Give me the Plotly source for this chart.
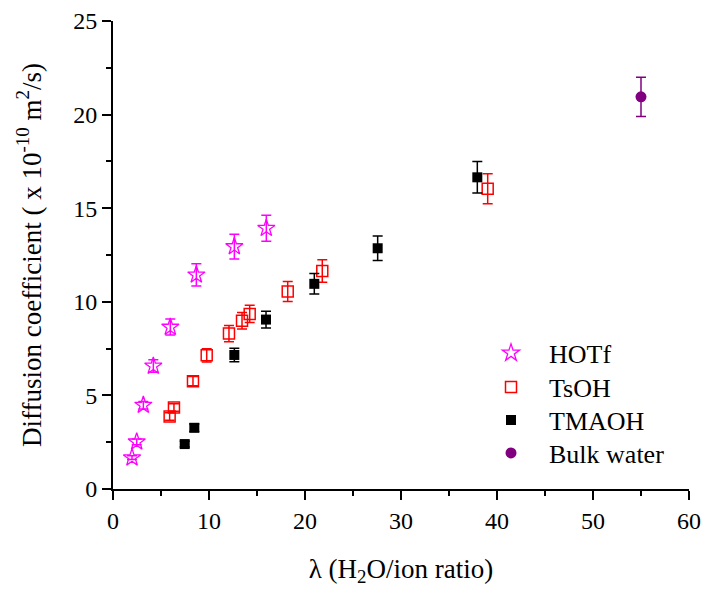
import plotly.graph_objects as go

# ---- data ----
hotf_x = [1.98, 2.47, 3.16, 4.2, 5.97, 8.68, 12.64, 15.97]
hotf_y = [1.67, 2.52, 4.48, 6.57, 8.65, 11.44, 12.95, 13.93]
hotf_err = [0.1, 0.15, 0.2, 0.34, 0.43, 0.59, 0.66, 0.7]

tsoh_x = [5.9, 6.35, 8.33, 9.76, 12.08, 13.44, 14.24, 18.2, 21.8, 39.03]
tsoh_y = [3.87, 4.35, 5.76, 7.14, 8.3, 8.99, 9.35, 10.55, 11.64, 16.04]
tsoh_err = [0.2, 0.2, 0.25, 0.35, 0.43, 0.44, 0.46, 0.54, 0.6, 0.8]

tmaoh_x = [7.47, 8.47, 12.64, 15.94, 20.97, 27.57, 37.95]
tmaoh_y = [2.4, 3.27, 7.16, 9.05, 10.96, 12.86, 16.65]
tmaoh_err = [0.15, 0.2, 0.36, 0.45, 0.55, 0.65, 0.84]

bulk_x = [55.0]
bulk_y = [20.95]
bulk_err = [1.05]

x_ticks = [0, 10, 20, 30, 40, 50, 60]
y_ticks = [0, 5, 10, 15, 20, 25]

FONT = "Liberation Serif, Times New Roman, serif"

fig = go.Figure()

def add(name, xs, ys, errs, symbol, color, size, lw, legend):
    fig.add_trace(go.Scatter(
        x=xs, y=ys, name=name, mode="markers", legend=legend,
        marker=dict(symbol=symbol, color=color, size=size,
                    line=dict(color=color, width=lw)),
        error_y=dict(type="data", array=errs, visible=True,
                     color=color, thickness=1.5, width=5),
    ))

add("HOTf", hotf_x, hotf_y, hotf_err, "star-open", "#ff00ff", 13, 1.3, "legend")
add("TsOH", tsoh_x, tsoh_y, tsoh_err, "square-open", "#ff0000", 11, 1.5, "legend2")
add("TMAOH", tmaoh_x, tmaoh_y, tmaoh_err, "square", "#000000", 10, 0, "legend3")
add("Bulk water", bulk_x, bulk_y, bulk_err, "circle", "#800080", 11, 0, "legend4")

def leg(yc):
    return dict(x=0.625, y=yc, xanchor="left", yanchor="middle",
                font=dict(family=FONT, size=26, color="black"),
                bgcolor="rgba(0,0,0,0)", itemwidth=66, itemsizing="trace")

fig.update_layout(
    width=705, height=592,
    margin=dict(l=113, r=16, t=21, b=103),
    paper_bgcolor="white", plot_bgcolor="white",
    font=dict(family=FONT, size=24, color="black"),
    showlegend=True,
    legend=leg(0.2906),
    legend2=leg(0.218),
    legend3=leg(0.1474),
    legend4=leg(0.0769),
    xaxis=dict(
        range=[0, 60], tickvals=x_ticks, ticktext=[str(v) for v in x_ticks],
        showline=True, linecolor="black", linewidth=2,
        ticks="outside", ticklen=9, tickwidth=2, tickcolor="black",
        minor=dict(dtick=5, ticks="outside", ticklen=5, tickwidth=2, tickcolor="black"),
        showgrid=False, zeroline=False, mirror=False, automargin=False,
        tickfont=dict(family=FONT, size=24),
        title=dict(text="λ (H<sub>2</sub>O/ion ratio)", standoff=26,
                   font=dict(family=FONT, size=27)),
    ),
    yaxis=dict(
        range=[0, 25], tickvals=y_ticks, ticktext=[str(v) for v in y_ticks],
        showline=True, linecolor="black", linewidth=2,
        ticks="outside", ticklen=9, tickwidth=2, tickcolor="black",
        minor=dict(dtick=2.5, ticks="outside", ticklen=5, tickwidth=2, tickcolor="black"),
        showgrid=False, zeroline=False, mirror=False, automargin=False,
        tickfont=dict(family=FONT, size=24),
        title=dict(text="Diffusion coefficient ( x 10<sup>-10</sup> m<sup>2</sup>/s)",
                   standoff=24, font=dict(family=FONT, size=27)),
    ),
)

fig.write_html("out.html")
